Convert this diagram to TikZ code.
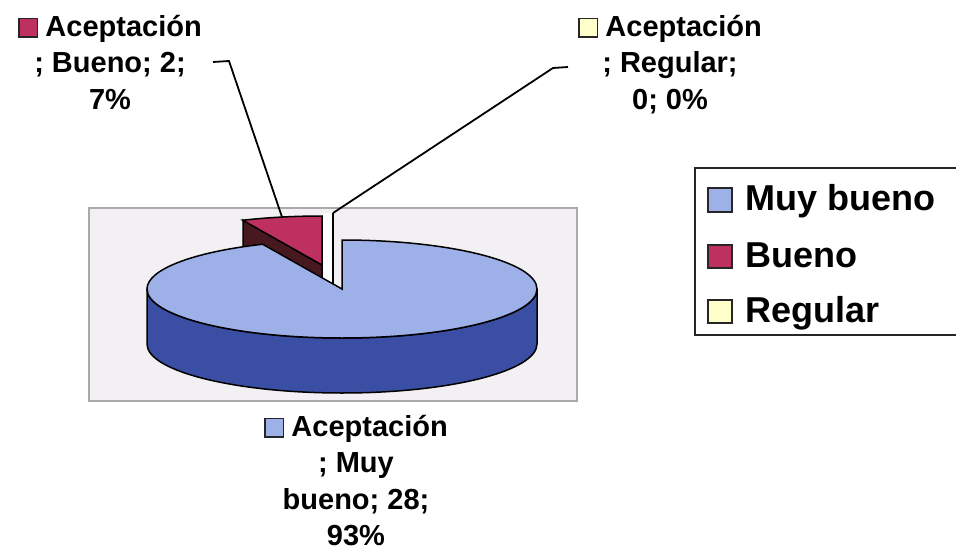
\documentclass[tikz,border=0pt]{standalone}
\usepackage{fontspec}
\setmainfont{Liberation Sans}
\definecolor{bluetop}{RGB}{158,176,232}
\definecolor{blueside}{RGB}{58,78,164}
\definecolor{redtop}{RGB}{190,48,96}
\definecolor{redside}{RGB}{72,24,32}
\definecolor{yel}{RGB}{255,255,204}
\definecolor{plotbg}{RGB}{242,240,242}
\definecolor{plotedge}{RGB}{170,170,170}
\newcommand{\mk}[1]{{\setlength\fboxsep{0pt}\setlength\fboxrule{1.6pt}\fcolorbox{black!85}{#1}{\rule{0pt}{17pt}\hspace{17pt}}}\hspace{7pt}}
\begin{document}
\begin{tikzpicture}[x=1pt,y=-1pt,
  lbl/.style={font=\fontsize{29}{36.5}\selectfont\bfseries, align=center, inner sep=0pt},
  leg/.style={font=\fontsize{36}{40}\selectfont\bfseries, anchor=base west, inner sep=0pt},
  edge/.style={draw=black, line width=1.5pt},
  leader/.style={draw=black, line width=1.8pt},
  legbox/.style={draw=black!85, line width=1.8pt}]
\useasboundingbox (0,0) rectangle (956,554);
\fill[white] (0,0) rectangle (956,554);
% plot area
\filldraw[fill=plotbg, draw=plotedge, line width=1.8pt] (89,208) rectangle (577,401);
% gap strip
\fill[white] (322,213) rectangle (333,292);
% exploded Bueno slice
\filldraw[fill=redside, edge] (243,220) -- (322,265) -- (322,320) -- (243,275) -- cycle;
\filldraw[fill=redtop, edge] (322,265) -- (322,216) arc[start angle=-90,end angle=-114,x radius=195,y radius=49] -- cycle;
% Regular (0%) slice
\coordinate (regtop) at (333,213);
\coordinate (regbot) at (333,292);
\draw[edge] (regtop) -- (regbot);
% Muy bueno slice
\filldraw[fill=blueside, edge] (147,289) arc[start angle=180,end angle=0,x radius=195,y radius=49] -- ++(0,55) arc[start angle=0,end angle=180,x radius=195,y radius=49] -- cycle;
\filldraw[fill=bluetop, edge] (342,289) -- (342,240) arc[start angle=-90,end angle=246,x radius=195,y radius=49] -- cycle;
% data labels
\node[lbl, anchor=north] (lbueno) at (110,15) {\mk{redtop}Aceptación\\; Bueno; 2;\\7\%};
\coordinate (b1) at (213,62);
\coordinate (b2) at (229,61);
\coordinate (b3) at (282,217);
\draw[leader] (b1) -- (b2) -- (b3);
\node[lbl, anchor=north] (lreg) at (670,15) {\mk{yel}Aceptación\\; Regular;\\0; 0\%};
\coordinate (r1) at (568,67);
\coordinate (r2) at (553,68);
\draw[leader] (r1) -- (r2) -- (regtop);
\node[lbl, anchor=north] (lmuy) at (356,415) {\mk{bluetop}Aceptación\\; Muy\\bueno; 28;\\93\%};
% legend
\draw[legbox] (960,168) -| (695,335) -- (960,335);
\filldraw[fill=bluetop, legbox] (708,188) rectangle (732,212);
\filldraw[fill=redtop, legbox] (708,245) rectangle (732,268);
\filldraw[fill=yel, legbox] (708,300) rectangle (732,323);
\node[leg] (t1) at (745,210) {Muy bueno};
\node[leg] (t2) at (745,267) {Bueno};
\node[leg] (t3) at (745,322) {Regular};
\end{tikzpicture}
\end{document}
